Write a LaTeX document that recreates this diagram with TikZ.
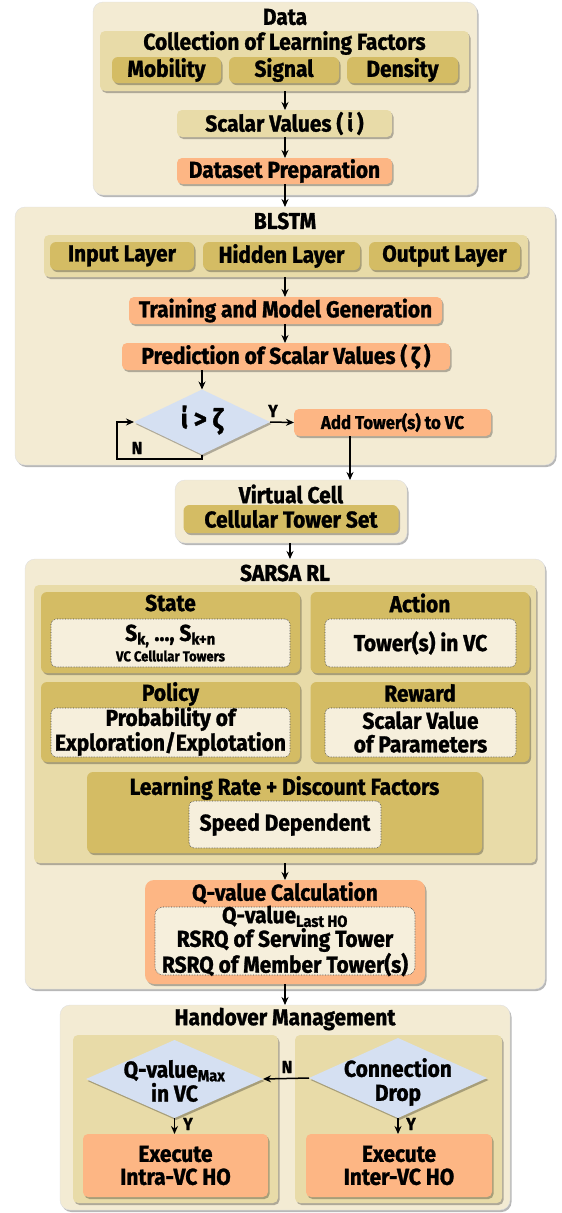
\documentclass[tikz,border=0pt]{standalone}
\usepackage{fontspec}
\setmainfont{Fira Sans}[FakeStretch=0.91,BoldFeatures={FakeBold=1.2}]
\usetikzlibrary{arrows.meta,shadows,shapes.geometric}
\definecolor{cCream}{HTML}{F3EBD3}
\definecolor{cLight}{HTML}{E8DBA8}
\definecolor{cGold}{HTML}{D4BC64}
\definecolor{cOrange}{HTML}{FDB684}
\definecolor{cBlue}{HTML}{D5E0F2}
\definecolor{cWhite}{HTML}{F6EFDC}
\tikzset{
  shade/.style={drop shadow={shadow xshift=1.5pt,shadow yshift=-2pt,fill=black,opacity=0.28}},
  outerbox/.style={shade,draw=black!12,fill=cCream,rounded corners=10pt,inner sep=0pt,outer sep=0pt},
  lightbox/.style={shade,fill=cLight,rounded corners=5pt,inner sep=0pt,outer sep=0pt},
  goldbox/.style={shade,fill=cGold,rounded corners=6pt,inner sep=0pt,outer sep=0pt},
  orangebox/.style={shade,fill=cOrange,rounded corners=5pt,inner sep=0pt,outer sep=0pt},
  dotbox/.style={fill=cWhite,draw=black!75,densely dotted,line width=0.6pt,rounded corners=5pt,inner sep=0pt,outer sep=0pt},
  decision/.style={shade,diamond,fill=cBlue,inner sep=0pt,outer sep=0pt},
  txt/.style={inner sep=0pt,align=center},
  lbl/.style={inner sep=0pt,font=\bfseries\fontsize{17.5}{19}\selectfont},
  arr/.style={-{Stealth[length=8pt,width=7pt]},line width=1.5pt},
}
\begin{document}
\begin{tikzpicture}[x=1pt,y=-1pt,font=\bfseries\fontsize{23}{24}\selectfont]
\useasboundingbox (0,0) rectangle (562,1213);
% ---------------- Data
\node[outerbox,minimum width=384pt,minimum height=193pt] (data) at (285,98.5) {};
\node[txt] (dataT) at (285,17) {Data};
\node[lightbox,minimum width=369pt,minimum height=60pt] (coll) at (284.5,61) {};
\node[txt] (collT) at (284.5,43) {Collection of Learning Factors};
\node[goldbox,minimum width=109pt,minimum height=26pt] (mob) at (166.5,70) {Mobility};
\node[goldbox,minimum width=110pt,minimum height=26pt] (sig) at (284,70) {Signal};
\node[goldbox,minimum width=111pt,minimum height=26pt] (den) at (402.5,70) {Density};
\node[lightbox,minimum width=215pt,minimum height=27pt] (scal) at (284.5,123.5) {Scalar Values (\,ί\,)};
\node[orangebox,minimum width=215pt,minimum height=26pt] (dset) at (284.5,171) {Dataset Preparation};
% ---------------- BLSTM
\node[outerbox,minimum width=540pt,minimum height=258pt] (blstm) at (285,336) {};
\node[txt] (blstmT) at (285,221) {BLSTM};
\node[lightbox,minimum width=484pt,minimum height=42pt] (layers) at (286,256) {};
\node[goldbox,minimum width=144pt,minimum height=28pt] (inl) at (122,256) {Input Layer};
\node[goldbox,minimum width=157pt,minimum height=28pt] (hidl) at (281.5,256) {Hidden Layer};
\node[goldbox,minimum width=151pt,minimum height=28pt] (outl) at (444.5,256) {Output Layer};
\node[orangebox,minimum width=313pt,minimum height=27pt] (train) at (285.5,310.5) {Training and Model Generation};
\node[orangebox,minimum width=328pt,minimum height=27pt] (pred) at (286,356.5) {Prediction of Scalar Values (\,ζ\,)};
\node[decision,minimum width=136pt,minimum height=65pt] (dia) at (202,422) {};
\node[txt,font=\bfseries\fontsize{27.5}{29}\selectfont] (diaT) at (202,420) {ί > ζ};
\node[orangebox,minimum width=197pt,minimum height=27pt,font=\bfseries\fontsize{18.5}{20}\selectfont] (add) at (392.5,422.5) {Add Tower(s) to VC};
\node[lbl] (yl1) at (273,411) {Y};
\node[lbl] (nl1) at (137,448) {N};
\coordinate (nb) at (117,459);
% ---------------- Virtual Cell
\node[outerbox,minimum width=232pt,minimum height=63pt] (vc) at (291,511.5) {};
\node[txt] (vcT) at (291,494) {Virtual Cell};
\node[goldbox,minimum width=215pt,minimum height=28pt] (cts) at (291,519) {Cellular Tower Set};
% ---------------- SARSA
\node[outerbox,minimum width=520pt,minimum height=430pt] (sarsa) at (285,774) {};
\node[txt] (sarsaT) at (285,573) {SARSA RL};
\node[lightbox,minimum width=502pt,minimum height=278pt] (rlin) at (285,724) {};
% state
\node[goldbox,minimum width=259pt,minimum height=81pt] (state) at (170.5,632.5) {};
\node[txt] (stateT) at (170.5,603) {State};
\node[dotbox,minimum width=239pt,minimum height=48pt] (stateB) at (170.5,643) {};
\node[txt] (stateS) at (170.5,636) {S\textsubscript{k,} ..., S\textsubscript{k+n}};
\node[txt,font=\bfseries\fontsize{14.3}{16}\selectfont] (stateV) at (170.5,656) {VC Cellular Towers};
% action
\node[goldbox,minimum width=219pt,minimum height=81pt] (action) at (420,632.5) {};
\node[txt] (actionT) at (420,603) {Action};
\node[dotbox,minimum width=191pt,minimum height=48pt] (actionB) at (420.5,643) {Tower(s) in VC};
% policy
\node[goldbox,minimum width=259pt,minimum height=80pt] (policy) at (170.5,722) {};
\node[txt] (policyT) at (170.5,694) {Policy};
\node[dotbox,minimum width=239pt,minimum height=49pt] (policyB) at (170.5,732.5) {};
\node[txt,font=\bfseries\fontsize{23}{23.5}\selectfont] (policyX) at (170.5,731.5) {Probability of\\Exploration/Explotation};
% reward
\node[goldbox,minimum width=219pt,minimum height=80pt] (reward) at (420,722) {};
\node[txt] (rewardT) at (420,693) {Reward};
\node[dotbox,minimum width=191pt,minimum height=49pt] (rewardB) at (420.5,732.5) {};
\node[txt,font=\bfseries\fontsize{23}{23.5}\selectfont] (rewardX) at (420.5,732) {Scalar Value\\of Parameters};
% learning rate
\node[goldbox,minimum width=395pt,minimum height=81pt] (lr) at (284.5,812.5) {};
\node[txt] (lrT) at (284.5,788) {Learning Rate + Discount Factors};
\node[dotbox,minimum width=192pt,minimum height=47pt] (speed) at (285,824.5) {Speed Dependent};
% q-value
\node[orangebox,rounded corners=9pt,minimum width=280pt,minimum height=104pt] (qv) at (285,932) {};
\node[txt] (qvT) at (285,893) {Q-value Calculation};
\node[dotbox,rounded corners=8pt,minimum width=260pt,minimum height=68pt] (qvB) at (285,941) {};
\node[txt,font=\bfseries\fontsize{23}{21.5}\selectfont] (qvX) at (285,941) {Q-value\textsubscript{Last HO}\\RSRQ of Serving Tower\\RSRQ of Member Tower(s)};
% ---------------- Handover
\node[outerbox,minimum width=450pt,minimum height=205pt] (hm) at (285,1107.5) {};
\node[txt] (hmT) at (285,1019) {Handover Management};
\node[lightbox,minimum width=205pt,minimum height=168pt] (hl) at (175.5,1119) {};
\node[lightbox,minimum width=207pt,minimum height=168pt] (hr) at (398.5,1119) {};
\node[decision,minimum width=177pt,minimum height=78pt] (qmax) at (174.5,1079) {};
\node[txt,font=\bfseries\fontsize{23}{24}\selectfont] (qmaxT) at (174.5,1081) {Q-value\textsubscript{Max}\\in VC};
\node[decision,minimum width=178pt,minimum height=80pt] (drop) at (398,1078) {};
\node[txt,font=\bfseries\fontsize{23}{24}\selectfont] (dropT) at (398,1082) {Connection\\Drop};
\node[orangebox,minimum width=185pt,minimum height=63pt] (intra) at (175.5,1165.5) {};
\node[txt,font=\bfseries\fontsize{23}{23}\selectfont] (intraT) at (175.5,1165.5) {Execute\\Intra-VC HO};
\node[orangebox,minimum width=186pt,minimum height=63pt] (inter) at (399,1165.5) {};
\node[txt,font=\bfseries\fontsize{23}{23}\selectfont] (interT) at (399,1165.5) {Execute\\Inter-VC HO};
\node[lbl] (nl2) at (287,1067) {N};
\node[lbl] (yl2) at (188,1124) {Y};
\node[lbl] (yl3) at (411,1124) {Y};
% ---------------- connectors
\draw[arr] (coll.south -| 285,0) -- (scal.north -| 285,0);
\draw[arr] (scal.south -| 285,0) -- (dset.north -| 285,0);
\draw[arr] (dset.south -| 285,0) -- (blstm.north -| 285,0);
\draw[arr] (layers.south -| 285,0) -- (train.north -| 285,0);
\draw[arr] (train.south -| 285,0) -- (pred.north -| 285,0);
\draw[arr] (pred.south -| dia.north) -- (dia.north);
\draw[arr] (dia.east) -- (add.west);
\draw[arr] (dia.south) |- (nb) |- (dia.west);
\draw[arr] (add.south -| 350,0) -- (vc.north -| 350,0);
\draw[arr] (vc.south -| 290,0) -- (sarsa.north -| 290,0);
\draw[arr] (rlin.south -| 285,0) -- (qv.north -| 285,0);
\draw[arr] (qv.south -| 285,0) -- (hm.north -| 285,0);
\draw[arr] (drop.west) -- (qmax.east);
\draw[arr] (qmax.south) -- (intra.north -| qmax.south);
\draw[arr] (drop.south) -- (inter.north -| drop.south);
\end{tikzpicture}
\end{document}
